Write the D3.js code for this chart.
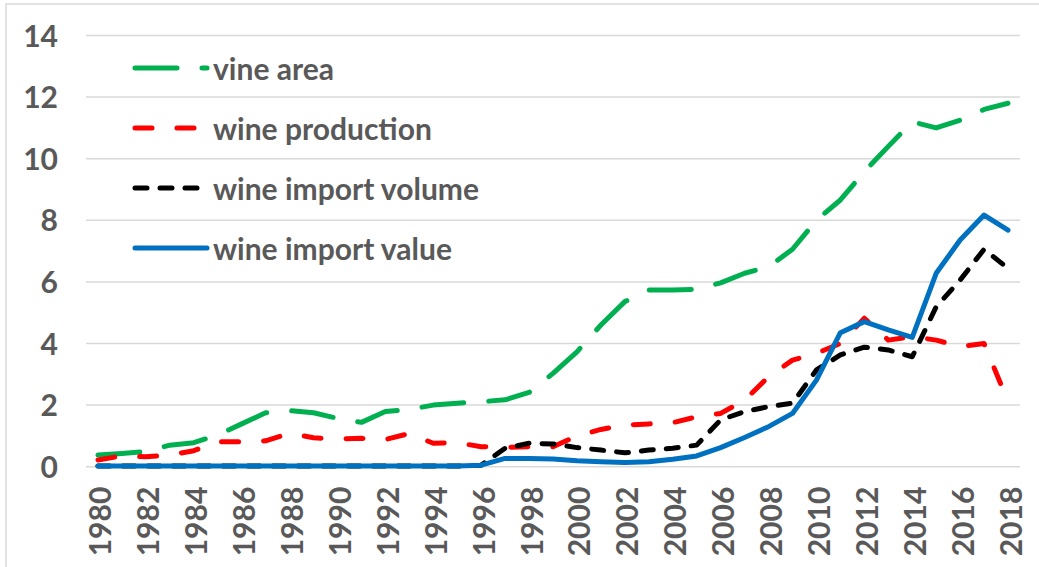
<!DOCTYPE html>
<html><head><meta charset="utf-8">
<script src="https://cdn.jsdelivr.net/npm/d3@7"></script>
<style>html,body{margin:0;padding:0;background:#fff;overflow:hidden}</style>
</head><body>
<svg id="chart" width="1039" height="567"></svg>
<script>
const years = [1980,1981,1982,1983,1984,1985,1986,1987,1988,1989,1990,1991,1992,1993,1994,1995,1996,1997,1998,1999,
  2000,2001,2002,2003,2004,2005,2006,2007,2008,2009,2010,2011,2012,2013,2014,2015,2016,2017,2018];
const vineArea = [0.38,0.43,0.49,0.70,0.78,1.03,1.39,1.75,1.82,1.75,1.57,1.44,1.79,1.86,2.00,2.06,2.11,2.17,2.41,3.03,
  3.73,4.60,5.36,5.74,5.74,5.76,5.97,6.28,6.49,7.06,8.00,8.66,9.58,10.40,11.20,11.00,11.25,11.60,11.80];
const wineProduction = [0.22,0.35,0.32,0.38,0.52,0.81,0.81,0.84,1.08,0.94,0.90,0.92,0.88,1.08,0.76,0.78,0.65,0.63,0.65,0.65,
  1.00,1.21,1.35,1.39,1.43,1.62,1.73,2.16,2.92,3.46,3.68,4.00,4.82,4.11,4.22,4.11,3.90,4.00,2.11];
const importVolume = [0.02,0.02,0.02,0.02,0.02,0.02,0.02,0.02,0.02,0.02,0.02,0.02,0.02,0.02,0.02,0.02,0.05,0.60,0.76,0.74,
  0.62,0.54,0.45,0.54,0.60,0.70,1.52,1.79,1.95,2.06,3.14,3.63,3.88,3.79,3.57,5.19,6.06,7.06,6.44];
const importValue = [0.02,0.02,0.02,0.02,0.02,0.02,0.02,0.02,0.02,0.02,0.02,0.02,0.02,0.02,0.02,0.02,0.05,0.27,0.27,0.25,
  0.19,0.16,0.14,0.16,0.24,0.35,0.62,0.95,1.30,1.73,2.81,4.35,4.71,4.44,4.20,6.28,7.36,8.17,7.68];
const seriesNames = ["vine area","wine production","wine import volume","wine import value"];
const yTicks = [0,2,4,6,8,10,12,14];
const xTickLabels = years.filter(y => y % 2 === 0);

const svg = d3.select("#chart");
const plot = {left: 86, right: 1020, top: 35.5, bottom: 466.7};
const textColor = "#595959";
const font = "Lato, 'Liberation Sans', sans-serif";
const fs = 30;

// outer border
svg.append("rect").attr("x",6).attr("y",4).attr("width",1100).attr("height",600)
  .attr("fill","none").attr("stroke","#d9d9d9").attr("stroke-width",1.5);

const x = d3.scalePoint().domain(years).range([plot.left, plot.right]).padding(0.5);
const y = d3.scaleLinear().domain([0,14]).range([plot.bottom, plot.top]);

// gridlines
svg.append("g").selectAll("line").data(yTicks).join("line")
  .attr("x1", plot.left).attr("x2", plot.right)
  .attr("y1", d => y(d)).attr("y2", d => y(d))
  .attr("stroke", "#d9d9d9").attr("stroke-width", 1.5);

// y axis labels
const yAxis = d3.axisLeft(y).tickValues(yTicks).tickSize(0).tickPadding(0);
const gy = svg.append("g").attr("transform", `translate(58,0)`).call(yAxis);
gy.select(".domain").remove();
gy.selectAll("text").attr("fill", textColor).attr("font-family", font)
  .attr("font-weight", "bold").attr("font-size", fs).attr("dy", "0.35em");

// x axis labels
const xAxis = d3.axisBottom(x).tickValues(xTickLabels).tickSize(0).tickPadding(0);
const gx = svg.append("g").attr("transform", `translate(0,${plot.bottom})`).call(xAxis);
gx.select(".domain").remove();
gx.selectAll("text").attr("fill", textColor).attr("font-family", font)
  .attr("font-weight", "bold").attr("font-size", fs)
  .attr("text-anchor", "end").attr("dy", null).attr("y", 0)
  .attr("dominant-baseline", "central")
  .attr("transform", "translate(1,20) rotate(-90)");

const series = [
  {name: seriesNames[0], values: vineArea, color: "#00B050", dash: "42,25"},
  {name: seriesNames[1], values: wineProduction, color: "#FF0000", dash: "17,25"},
  {name: seriesNames[2], values: importVolume, color: "#000000", dash: "12,13"},
  {name: seriesNames[3], values: importValue, color: "#0070C0", dash: null}
];

const line = d3.line().x((d,i) => x(years[i])).y(d => y(d));
svg.append("g").selectAll("path").data(series).join("path")
  .attr("d", s => line(s.values))
  .attr("fill", "none").attr("stroke", s => s.color).attr("stroke-width", 5)
  .attr("stroke-linecap", "round").attr("stroke-linejoin", "round")
  .attr("stroke-dasharray", s => s.dash);

// legend
const lg = svg.append("g");
const rows = lg.selectAll("g").data(series).join("g")
  .attr("transform", (s,i) => `translate(0,${68 + i*60})`);
rows.append("line").attr("x1",135).attr("x2",207).attr("y1",0).attr("y2",0)
  .attr("stroke", s => s.color).attr("stroke-width",5)
  .attr("stroke-linecap","round").attr("stroke-dasharray", s => s.dash);
rows.append("text").attr("x",213).attr("y",0).attr("dominant-baseline","central")
  .attr("fill", textColor).attr("font-family", font).attr("font-weight","bold")
  .attr("font-size", fs).text(s => s.name);
</script>
</body></html>
